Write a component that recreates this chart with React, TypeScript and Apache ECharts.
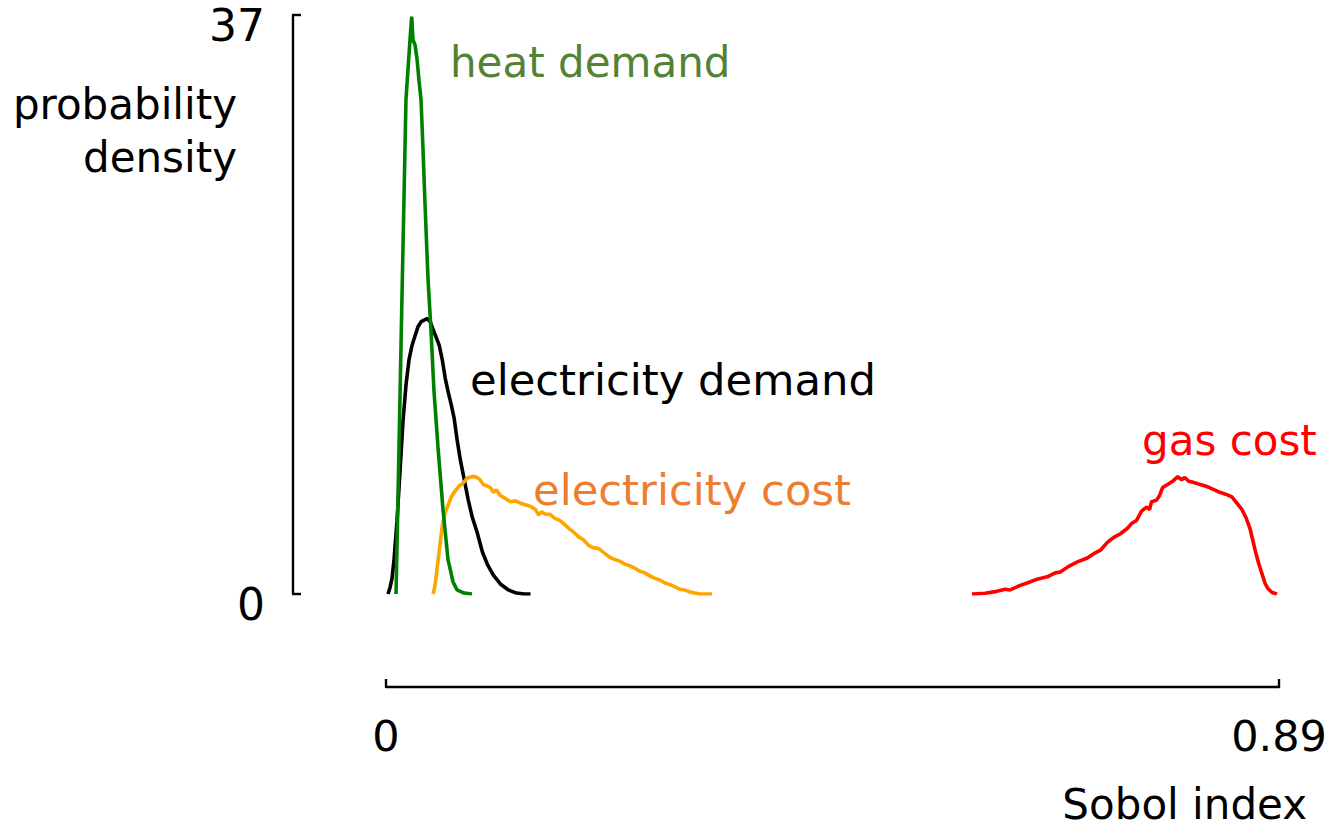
import React, { useEffect, useRef } from "react";
import * as echarts from "echarts";

const xTicks = [0, 0.89];
const yTicks = [0, 37];

const heatX = [0.010, 0.013, 0.0159, 0.0179, 0.0199, 0.0219, 0.0239, 0.0256, 0.0269, 0.0289, 0.0309, 0.0329, 0.0349, 0.0369, 0.0389, 0.0419, 0.0448, 0.0478, 0.0518, 0.0568, 0.0618, 0.0668, 0.0708, 0.0777, 0.0857];
const heatY = [0, 9.5, 18.9, 25.2, 31.6, 33.5, 35.4, 36.9, 35.4, 35.1, 34.2, 32.8, 31.6, 28.4, 24.9, 20.1, 16.9, 13.0, 9.4, 5.4, 2.2, 0.77, 0.26, 0.06, 0];

const elecDemX = [0.002, 0.004, 0.006, 0.008, 0.011, 0.014, 0.017, 0.020, 0.023, 0.026, 0.029, 0.032, 0.035, 0.038, 0.041, 0.044, 0.047, 0.050, 0.053, 0.056, 0.059, 0.062, 0.065, 0.068, 0.071, 0.074, 0.078, 0.082, 0.086, 0.091, 0.096, 0.101, 0.107, 0.114, 0.122, 0.130, 0.138, 0.144];
const elecDemY = [0, 0.4, 1.0, 2.2, 4.7, 7.9, 11.1, 13.4, 15.0, 15.9, 16.5, 17.1, 17.4, 17.5, 17.6, 17.4, 16.9, 16.4, 15.9, 15.0, 13.8, 12.9, 12.1, 11.2, 9.8, 8.6, 7.3, 6.0, 4.9, 3.9, 2.7, 1.9, 1.2, 0.64, 0.26, 0.06, 0, 0];

const elecCostX = [0.047, 0.049, 0.052, 0.056, 0.059, 0.062, 0.065, 0.069, 0.073, 0.077, 0.081, 0.085, 0.089, 0.093, 0.097, 0.101, 0.104, 0.107, 0.110, 0.114, 0.119, 0.124, 0.129, 0.134, 0.139, 0.144, 0.149, 0.152, 0.155, 0.159, 0.163, 0.168, 0.173, 0.177, 0.182, 0.187, 0.192, 0.197, 0.202, 0.207, 0.212, 0.218, 0.223, 0.228, 0.233, 0.238, 0.243, 0.248, 0.253, 0.258, 0.263, 0.268, 0.273, 0.278, 0.283, 0.288, 0.293, 0.298, 0.303, 0.308, 0.313, 0.325];
const elecCostY = [0, 0.6, 2.2, 4.3, 5.2, 5.7, 6.2, 6.6, 6.9, 7.1, 7.4, 7.5, 7.5, 7.35, 7.0, 6.9, 6.8, 6.5, 6.65, 6.3, 6.1, 5.9, 5.95, 5.8, 5.7, 5.6, 5.4, 5.05, 5.25, 5.1, 5.1, 4.85, 4.7, 4.5, 4.2, 3.95, 3.65, 3.45, 3.1, 2.95, 2.9, 2.6, 2.35, 2.2, 2.1, 1.9, 1.8, 1.65, 1.45, 1.35, 1.15, 1.0, 0.9, 0.7, 0.6, 0.45, 0.3, 0.25, 0.13, 0.06, 0, 0];

const gasX = [0.584, 0.597, 0.607, 0.617, 0.622, 0.632, 0.639, 0.649, 0.659, 0.667, 0.672, 0.680, 0.689, 0.699, 0.706, 0.712, 0.719, 0.725, 0.732, 0.739, 0.743, 0.748, 0.753, 0.758, 0.761, 0.763, 0.768, 0.771, 0.774, 0.779, 0.784, 0.789, 0.793, 0.796, 0.800, 0.804, 0.809, 0.814, 0.819, 0.824, 0.831, 0.838, 0.843, 0.848, 0.853, 0.857, 0.861, 0.864, 0.867, 0.870, 0.873, 0.876, 0.879, 0.883, 0.888];
const gasY = [0, 0.05, 0.15, 0.3, 0.26, 0.55, 0.7, 0.95, 1.1, 1.35, 1.4, 1.75, 2.05, 2.3, 2.6, 2.8, 3.3, 3.6, 3.85, 4.2, 4.5, 4.7, 5.3, 5.55, 5.4, 5.9, 6.0, 6.3, 6.8, 7.0, 7.2, 7.5, 7.3, 7.45, 7.2, 7.15, 7.05, 6.95, 6.85, 6.7, 6.5, 6.35, 6.2, 5.8, 5.4, 4.9, 4.2, 3.4, 2.6, 1.9, 1.3, 0.7, 0.35, 0.1, 0];

const FONT = "DejaVu Sans";

const zip = (xs: number[], ys: number[]) => xs.map((x, i) => [x, ys[i]]);

export default function App() {
  const ref = useRef<HTMLDivElement>(null);
  useEffect(() => {
    if (!ref.current) return;
    const chart = echarts.init(ref.current, null, { renderer: "svg" });
    const line = (name: string, data: number[][], color: string) => ({
      name,
      type: "line",
      data,
      showSymbol: false,
      symbol: "none",
      lineStyle: { color, width: 3.6 },
      itemStyle: { color },
      z: 3,
    });
    chart.setOption({
      animation: false,
      backgroundColor: "#ffffff",
      grid: { left: 386, right: 53, top: 15, bottom: 237, containLabel: false },
      xAxis: {
        type: "value",
        min: xTicks[0],
        max: xTicks[1],
        interval: xTicks[1] - xTicks[0],
        offset: 93,
        splitLine: { show: false },
        axisLine: { show: true, onZero: false, lineStyle: { color: "#000", width: 2.4 } },
        axisTick: { show: true, inside: true, length: 8, lineStyle: { color: "#000", width: 2.4 } },
        axisLabel: {
          show: true,
          margin: 27,
          fontFamily: FONT,
          fontSize: 43,
          color: "#000",
          formatter: (v: number) => String(v),
        },
      },
      yAxis: {
        type: "value",
        min: yTicks[0],
        max: yTicks[1],
        interval: yTicks[1] - yTicks[0],
        offset: 93,
        splitLine: { show: false },
        axisLine: { show: true, onZero: false, lineStyle: { color: "#000", width: 2.4 } },
        axisTick: { show: true, inside: true, length: 8, lineStyle: { color: "#000", width: 2.4 } },
        axisLabel: {
          show: true,
          margin: 28,
          fontFamily: FONT,
          fontSize: 44,
          color: "#000",
          verticalAlign: "top",
          lineHeight: 20,
          formatter: (v: number) => String(v),
        },
      },
      graphic: [
        {
          type: "text",
          x: 237,
          y: 131,
          style: {
            text: "probability\ndensity",
            fontFamily: FONT,
            fontSize: 42,
            lineHeight: 53,
            fill: "#000",
            align: "right",
            verticalAlign: "middle",
          },
        },
        {
          type: "text",
          x: 1307,
          y: 804,
          style: { text: "Sobol index", fontFamily: FONT, fontSize: 42, fill: "#000", align: "right", verticalAlign: "middle" },
        },
        {
          type: "text",
          x: 450,
          y: 62,
          style: { text: "heat demand", fontFamily: FONT, fontSize: 42, fill: "#548235", align: "left", verticalAlign: "middle" },
        },
        {
          type: "text",
          x: 470,
          y: 380,
          style: { text: "electricity demand", fontFamily: FONT, fontSize: 43.3, fill: "#000", align: "left", verticalAlign: "middle" },
        },
        {
          type: "text",
          x: 533,
          y: 490,
          style: { text: "electricity cost", fontFamily: FONT, fontSize: 43.3, fill: "#ED7D31", align: "left", verticalAlign: "middle" },
        },
        {
          type: "text",
          x: 1142,
          y: 440,
          style: { text: "gas cost", fontFamily: FONT, fontSize: 42, fill: "#FF0000", align: "left", verticalAlign: "middle" },
        },
      ],
      series: [
        line("electricity demand", zip(elecDemX, elecDemY), "#000000"),
        line("electricity cost", zip(elecCostX, elecCostY), "#FFA500"),
        line("heat demand", zip(heatX, heatY), "#008000"),
        line("gas cost", zip(gasX, gasY), "#FF0000"),
      ],
    });
    return () => chart.dispose();
  }, []);
  return (
    <div
      ref={ref}
      style={{ position: "fixed", left: 0, top: 0, width: 1332, height: 831 }}
    />
  );
}
